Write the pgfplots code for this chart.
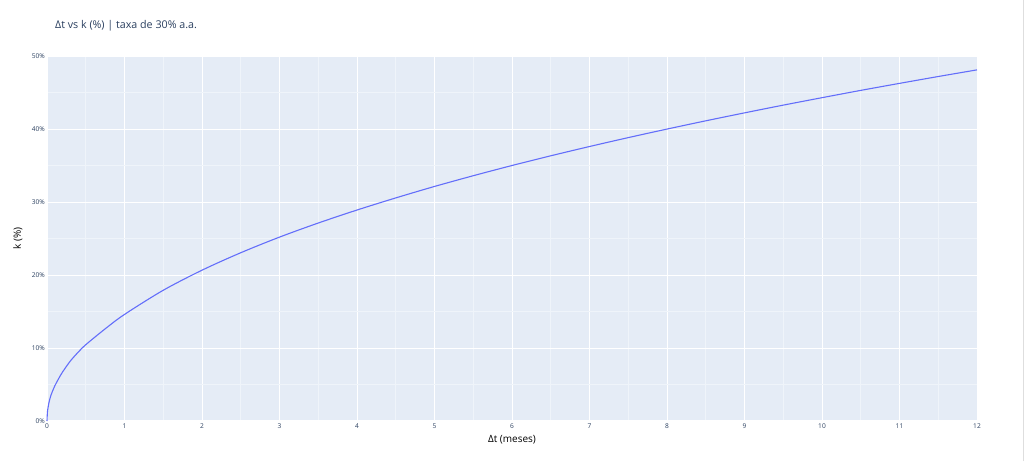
\documentclass[border=0pt]{standalone}
\usepackage{fontspec}
\setmainfont{Open Sans}
\usepackage{pgfplots}
\pgfplotsset{compat=1.18}
\definecolor{bg}{HTML}{E5ECF6}
\definecolor{txt}{HTML}{2A3F5F}
\definecolor{serie}{HTML}{636EFA}
\begin{document}
\begin{tikzpicture}
\useasboundingbox (0pt,0pt) rectangle (1024pt,461pt);
\draw[black!13, line width=0.8pt] (1023pt,0pt) -- (1023pt,461pt);
\node[anchor=west, font=\fontsize{10.7}{12}\selectfont, text=txt, inner sep=0] at (55pt,435pt) {Δt vs k (\%) | taxa de 30\% a.a.};
\begin{axis}[
  at={(47pt,40pt)}, anchor=south west,
  width=930pt, height=365pt, scale only axis,
  xmin=0, xmax=12, ymin=0, ymax=50,
  axis background/.style={fill=bg},
  axis line style={draw=none},
  xtick={0,1,...,12}, ytick={0,10,...,50},
  minor xtick={0.5,1.5,...,11.5}, minor ytick={5,15,...,45},
  grid=both,
  major grid style={white, line width=0.8pt},
  minor grid style={white!40!bg, line width=0.6pt},
  major tick length=0pt, minor tick length=0pt,
  /pgf/number format/assume math mode=true,
  yticklabel={\pgfmathprintnumber{\tick}\%},
  ticklabel style={font=\fontsize{6.6}{8}\selectfont, text=txt},
  yticklabel style={inner sep=2pt},
  xticklabel style={inner sep=2.5pt},
  xlabel={Δt (meses)}, ylabel={k (\%)},
  label style={font=\fontsize{7.6}{9}\selectfont, text=txt},
  every axis x label/.style={at={(axis description cs:0.5,-0.052)}, anchor=center},
  every axis y label/.style={at={(axis description cs:-0.0312,0.5)}, rotate=90, anchor=center},
  clip=false,
]
\draw[white, line width=1.1pt] (axis cs:0,0) -- (axis cs:12,0);
\draw[white, line width=1.1pt] (axis cs:0,0) -- (axis cs:0,50);
\addplot[serie, line width=1.1pt, smooth] coordinates {
  (0,0) (0.005,1.15) (0.01,1.6) (0.025,2.5) (0.05,3.5) (0.1,4.8) (0.15,5.8)
  (0.2,6.7) (0.3,8.2) (0.4,9.4) (0.5,10.45) (0.75,12.62) (1,14.6)
  (1.5,17.91) (2,20.66) (2.5,23.05) (3,25.19) (3.5,27.12) (4,28.9)
  (4.5,30.56) (5,32.13) (5.5,33.60) (6,35.0) (6.5,36.33) (7,37.6)
  (7.5,38.82) (8,39.99) (8.5,41.12) (9,42.21) (9.5,43.27) (10,44.29)
  (10.5,45.29) (11,46.25) (11.5,47.19) (12,48.1)
};
\end{axis}
\end{tikzpicture}
\end{document}
